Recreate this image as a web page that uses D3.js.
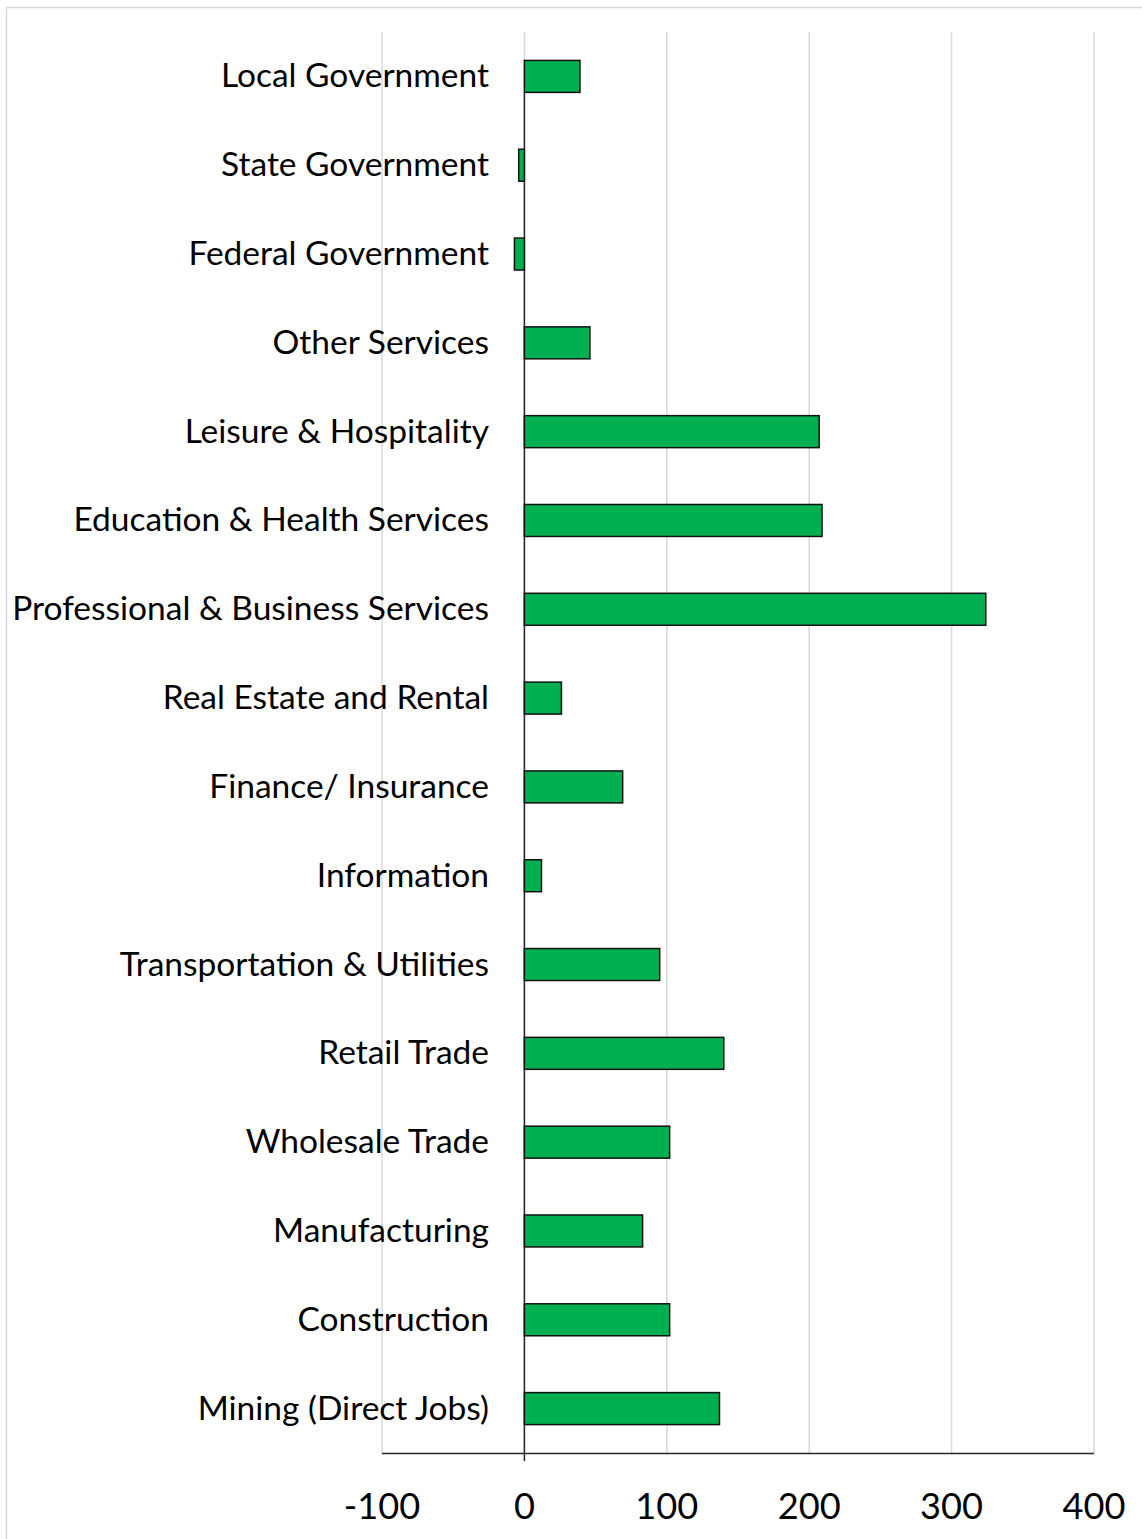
<!DOCTYPE html>
<html>
<head>
<meta charset="utf-8">
<script src="https://cdn.jsdelivr.net/npm/d3@7"></script>
<style>
  html, body { margin: 0; padding: 0; background: #fff; }
  svg { display: block; }
</style>
</head>
<body>
<script>
const categories = [
  "Local Government", "State Government", "Federal Government", "Other Services",
  "Leisure & Hospitality", "Education & Health Services", "Professional & Business Services",
  "Real Estate and Rental", "Finance/ Insurance", "Information", "Transportation & Utilities",
  "Retail Trade", "Wholesale Trade", "Manufacturing", "Construction", "Mining (Direct Jobs)"
];
const values = [39, -4, -7, 46, 207, 209, 324, 26, 69, 12, 95, 140, 102, 83, 102, 137];
const tickValues = [-100, 0, 100, 200, 300, 400];

const W = 1142, H = 1539;
const svg = d3.select("body").append("svg").attr("width", W).attr("height", H);
const FONT = "Lato, 'Open Sans', sans-serif";

// chart frame
svg.append("rect").attr("x", 6.5).attr("y", 7.5).attr("width", W + 10).attr("height", H + 10)
  .attr("fill", "#fff").attr("stroke", "#d9d9d9").attr("stroke-width", 1.5);

const x = d3.scaleLinear().domain([-100, 400]).range([382, 1094]);
const y = d3.scaleBand().domain(categories).range([32, 1453]).paddingInner(0.64).paddingOuter(0.32);

// gridlines
svg.append("g").selectAll("line").data(tickValues).join("line")
  .attr("x1", d => x(d)).attr("x2", d => x(d))
  .attr("y1", 32).attr("y2", 1453)
  .attr("stroke", "#d9d9d9").attr("stroke-width", 1.5);

// bottom axis line
svg.append("line").attr("x1", x(-100)).attr("x2", x(400)).attr("y1", 1453.5).attr("y2", 1453.5)
  .attr("stroke", "#262626").attr("stroke-width", 1.5);

// zero axis line
svg.append("line").attr("x1", x(0)).attr("x2", x(0))
  .attr("y1", y(categories[0]) + y.bandwidth()).attr("y2", 1461)
  .attr("stroke", "#262626").attr("stroke-width", 1.5);

// bars
svg.append("g").selectAll("rect").data(categories).join("rect")
  .attr("x", (d, i) => x(Math.min(0, values[i])))
  .attr("y", d => y(d))
  .attr("width", (d, i) => Math.abs(x(values[i]) - x(0)))
  .attr("height", y.bandwidth())
  .attr("fill", "#00b050").attr("stroke", "#111").attr("stroke-width", 1.5);

// category labels
const catLabels = svg.append("g").selectAll("text").data(categories).join("text")
  .attr("x", 489).attr("y", d => y(d) + y.bandwidth() / 2 - 2)
  .attr("text-anchor", "end").attr("dominant-baseline", "central")
  .attr("font-family", FONT).attr("font-size", 30).attr("fill", "#000")
  .text(d => d);
const widest = catLabels.filter(d => d === "Professional & Business Services").node();
const cw = widest.getComputedTextLength();
catLabels.attr("font-size", 30 * 477 / cw);

// tick labels
const tickLabels = svg.append("g").selectAll("text").data(tickValues).join("text")
  .attr("x", d => x(d)).attr("y", 1505)
  .attr("text-anchor", "middle").attr("dominant-baseline", "central")
  .attr("font-family", FONT).attr("font-size", 36).attr("fill", "#000")
  .text(d => d);
const t400 = tickLabels.filter(d => d === 400).node();
const tw = t400.getComputedTextLength();
tickLabels.attr("font-size", 36 * 63 / tw);
</script>
</body>
</html>
